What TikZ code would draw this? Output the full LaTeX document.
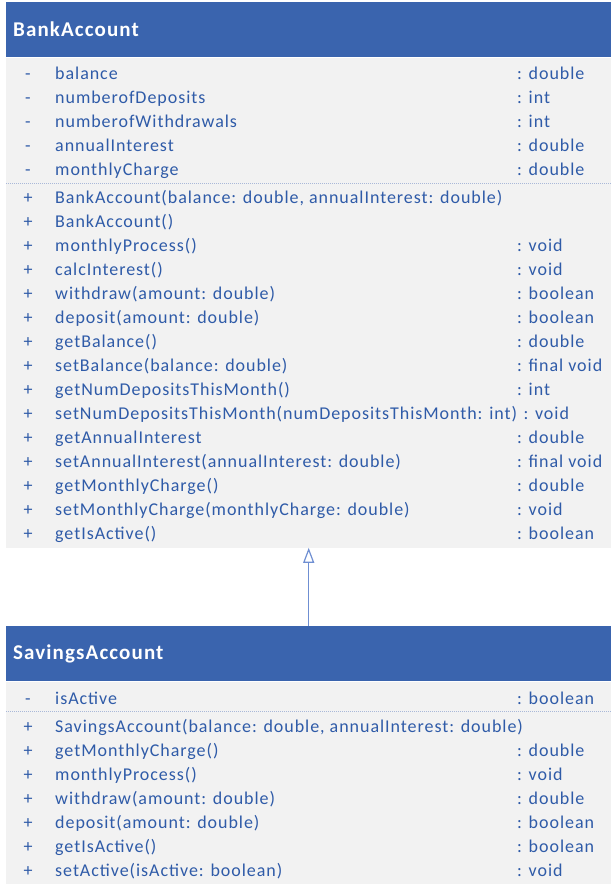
\documentclass[tikz,border=0pt]{standalone}
\usepackage{fontspec}
\setmainfont{Carlito}[LetterSpace=5.3]
\usetikzlibrary{arrows.meta,positioning}
\definecolor{UmlHead}{HTML}{3A64AE}
\definecolor{UmlBody}{HTML}{F2F2F2}
\definecolor{UmlText}{HTML}{2F5BA8}
\definecolor{UmlSep}{HTML}{A9B8D8}
\definecolor{UmlLine}{HTML}{6F8FD2}

\begin{document}
\begin{tikzpicture}[
    x=1pt,y=-1pt,
    head/.style={fill=UmlHead,minimum width=605pt,minimum height=55pt,inner xsep=7pt,text width=591pt,align=left,text=white,font=\fontsize{21}{24}\selectfont\bfseries},
    body/.style={fill=UmlBody,minimum width=605pt,inner sep=0pt},
    sign/.style={anchor=base,text=UmlText,font=\fontsize{18}{20}\selectfont},
    member/.style={anchor=base west,inner sep=0pt,text=UmlText,font=\fontsize{18}{20}\selectfont},
    sep/.style={UmlSep,densely dotted,line width=1pt},
    gen/.style={-{Triangle[length=15pt,width=11pt,fill=white]},UmlLine,line width=1.2pt}
  ]
    \useasboundingbox (0,0) rectangle (613,892);
    % BankAccount
    \node[head,anchor=north west] (bankhead) at (6,2) {BankAccount};
    \node[body,minimum height=490pt,below=0pt of bankhead] (bankbody) {};
    \foreach \s/\m/\t [count=\i] in {-/balance/: double, -/numberofDeposits/: int,
        -/numberofWithdrawals/: int, -/annualInterest/: double, -/monthlyCharge/: double} {
      \node[sign] (bank-s-\i) at (28,{55+24*\i}) {\s};
      \node[member] (bank-m-\i) at (55,{55+24*\i}) {\m};
      \node[member] (bank-t-\i) at (517,{55+24*\i}) {\t};
    }
    \draw[sep] (bankbody.west |- 0,183) -- (bankbody.east |- 0,183);
    \foreach \s/\m/\t [count=\i] in {+/{BankAccount(balance: double, annualInterest: double)}/{},
        +/BankAccount()/{}, +/monthlyProcess()/: void, +/calcInterest()/: void,
        +/withdraw(amount: double)/: boolean, +/deposit(amount: double)/: boolean,
        +/getBalance()/: double, +/setBalance(balance: double)/: final void,
        +/getNumDepositsThisMonth()/: int,
        +/setNumDepositsThisMonth(numDepositsThisMonth: int)/{},
        +/getAnnualInterest/: double, +/setAnnualInterest(annualInterest: double)/: final void,
        +/getMonthlyCharge()/: double, +/setMonthlyCharge(monthlyCharge: double)/: void,
        +/getIsActive()/: boolean} {
      \node[sign] (bankop-s-\i) at (28,{179+24*\i}) {\s};
      \node[member] (bankop-m-\i) at (55,{179+24*\i}) {\m};
      \node[member] (bankop-t-\i) at (517,{179+24*\i}) {\t};
    }
    % the long setter runs past the type column
    \node[member] (bankop-v-10) at ([xshift=6pt]bankop-m-10.base east) {: void};
    % SavingsAccount
    \node[head,anchor=north west] (savehead) at (6,626) {SavingsAccount};
    \node[body,minimum height=202pt,below=0pt of savehead] (savebody) {};
    \node[sign] (save-s-1) at (28,704) {-};
    \node[member] (save-m-1) at (55,704) {isActive};
    \node[member] (save-t-1) at (517,704) {: boolean};
    \draw[sep] (savebody.west |- 0,711) -- (savebody.east |- 0,711);
    \foreach \s/\m/\t [count=\i] in {+/{SavingsAccount(balance: double, annualInterest: double)}/{},
        +/getMonthlyCharge()/: double, +/monthlyProcess()/: void,
        +/withdraw(amount: double)/: double, +/deposit(amount: double)/: boolean,
        +/getIsActive()/: boolean, +/setActive(isActive: boolean)/: void} {
      \node[sign] (saveop-s-\i) at (28,{708+24*\i}) {\s};
      \node[member] (saveop-m-\i) at (55,{708+24*\i}) {\m};
      \node[member] (saveop-t-\i) at (517,{708+24*\i}) {\t};
    }
    \draw[gen] (savehead.north) -- (bankbody.south);
  \end{tikzpicture}
\end{document}
